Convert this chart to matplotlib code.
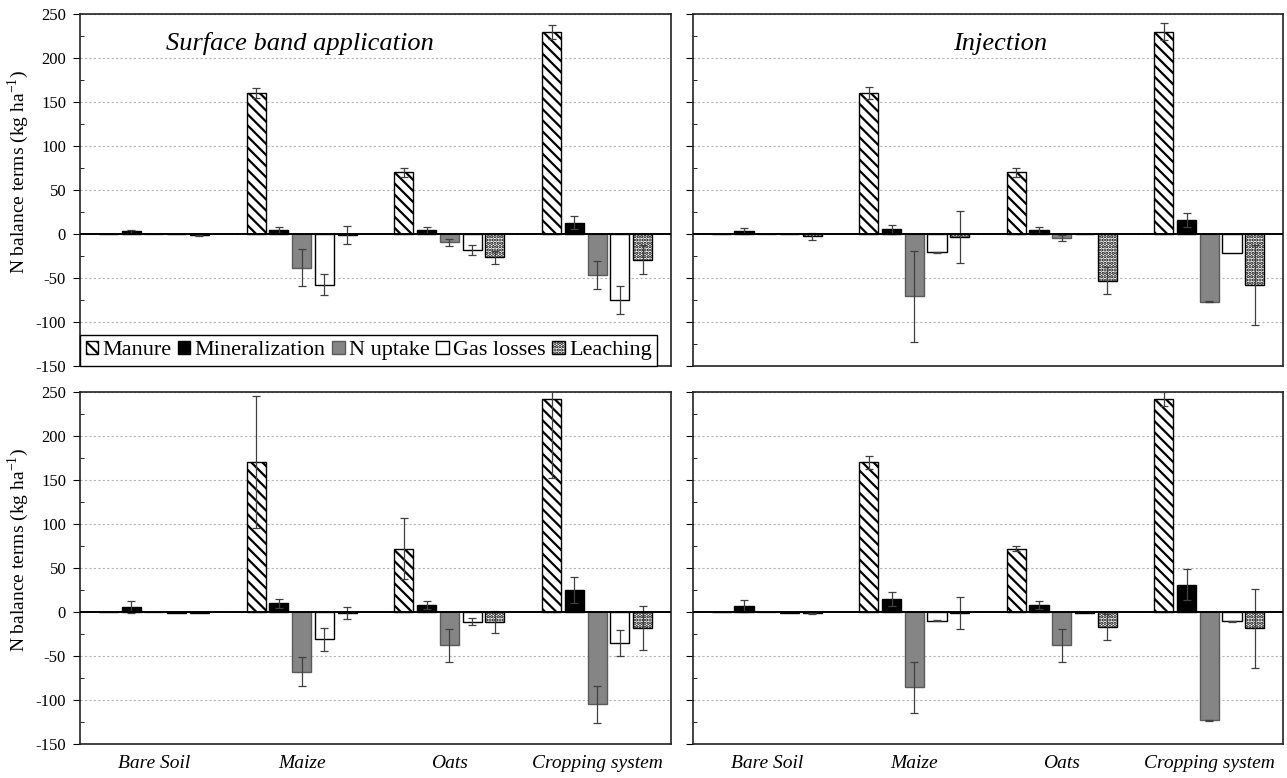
import numpy as np
import matplotlib
matplotlib.use("Agg")
import matplotlib.pyplot as plt
from matplotlib.patches import Patch
from matplotlib.ticker import MultipleLocator

plt.rcParams['font.family'] = ['Liberation Serif', 'DejaVu Serif']
plt.rcParams['axes.unicode_minus'] = False
plt.rcParams['hatch.linewidth'] = 1.6

crops = ['Bare Soil', 'Maize', 'Oats', 'Cropping system']
terms = ['Manure', 'Mineralization', 'N uptake', 'Gas losses', 'Leaching']

# rows follow `terms`, columns follow `crops`
surface_a = [[0, 160, 70, 230],
             [3, 4.5, 4.5, 13],
             [0, -38.5, -9.5, -47],
             [-0.5, -57.5, -18, -75],
             [-1.5, -1, -26.5, -29]]
surface_a_err = [[0, 6, 5, 8],
                 [2, 3.5, 3, 7],
                 [0, 21, 4, 16],
                 [0, 12, 5.5, 15.5],
                 [0.5, 10, 7.5, 16]]

inject_a = [[0, 160, 70, 230],
            [3, 5.3, 5, 16],
            [0, -71, -4.5, -77],
            [-0.5, -21, 0, -22],
            [-2.5, -3.5, -53, -58]]
inject_a_err = [[0, 7, 5, 10],
                [3.5, 5, 3.5, 8],
                [0, 52, 3, 0.5],
                [0, 1, 0, 0],
                [4, 30, 15, 45]]

surface_b = [[0, 170, 72, 242],
             [6, 10, 8, 25],
             [0, -68, -38, -105],
             [-1, -31, -11, -35.5],
             [-1, -1, -11.5, -18]]
surface_b_err = [[0, 75, 35, 90],
                 [7, 5, 4.5, 15],
                 [0, 16.5, 19, 21],
                 [0, 13, 4, 15],
                 [0, 7, 12.5, 25]]

inject_b = [[0, 170, 72, 242],
            [7, 15, 8, 31],
            [-0.5, -85.5, -38, -123],
            [-1, -10, -1, -10.5],
            [-1.5, -1, -17, -18.5]]
inject_b_err = [[0, 7, 3, 8],
                [7, 8, 4.5, 17.5],
                [0, 29, 19, 0.5],
                [0, 0.5, 0, 0.5],
                [0.5, 18.5, 15, 45]]

styles = [dict(facecolor='white', edgecolor='black', hatch='\\\\\\'),
          dict(facecolor='black', edgecolor='black'),
          dict(facecolor='#858585', edgecolor='#5a5a5a'),
          dict(facecolor='white', edgecolor='black'),
          dict(facecolor='white', edgecolor='black', hatch='.....')]

W, H = 1287, 778
fig = plt.figure(figsize=(W / 100, H / 100), dpi=100)


def box(x0, y0, x1, y1):
    return [x0 / W, 1 - y1 / H, (x1 - x0) / W, (y1 - y0) / H]


ax_tl = fig.add_axes(box(80, 14, 671, 366))
ax_tr = fig.add_axes(box(693, 14, 1283, 366))
ax_bl = fig.add_axes(box(80, 392, 671, 744))
ax_br = fig.add_axes(box(693, 392, 1283, 744))

x = np.arange(len(crops))
step = 0.154
width = 0.13


def draw(ax, vals, errs, left, bottom):
    for i, term in enumerate(terms):
        pos = x + (i - 2) * step
        ax.bar(pos, vals[i], width, linewidth=1.0, zorder=3, **styles[i])
        e = np.array(errs[i], dtype=float)
        keep = e > 0
        ax.errorbar(pos[keep], np.array(vals[i])[keep], yerr=e[keep], fmt='none',
                    ecolor='#404040', elinewidth=0.9, capsize=3, capthick=0.9,
                    zorder=4)
    ax.axhline(0, color='black', lw=1.4, zorder=5)
    ax.set_xlim(-0.5, 3.5)
    ax.set_ylim(-150, 250)
    ax.yaxis.set_major_locator(MultipleLocator(50))
    ax.yaxis.set_minor_locator(MultipleLocator(25))
    ax.grid(axis='y', which='major', linestyle=(0, (2, 2)), color='#b5b5b5',
            lw=0.8, zorder=0)
    ax.tick_params(axis='y', which='major', direction='out', length=5,
                   labelsize=12, labelleft=left, pad=5)
    ax.tick_params(axis='y', which='minor', direction='in', length=3)
    ax.set_xticks(x)
    ax.tick_params(axis='x', length=0, pad=8)
    if bottom:
        ax.set_xticklabels(crops, fontsize=14, style='italic')
    else:
        ax.set_xticklabels([])
    if left:
        ax.set_ylabel('N balance terms (kg ha$^{\\mathregular{-1}}$)',
                      fontsize=14)
        ax.yaxis.set_label_coords(-0.083, 0.55)
    for sp in ax.spines.values():
        sp.set_linewidth(1.2)
        sp.set_color('#222222')


draw(ax_tl, surface_a, surface_a_err, True, False)
draw(ax_tr, inject_a, inject_a_err, False, False)
draw(ax_bl, surface_b, surface_b_err, True, True)
draw(ax_br, inject_b, inject_b_err, False, True)

ax_tl.text(0.372, 0.915, 'Surface band application', transform=ax_tl.transAxes,
           ha='center', va='center', fontsize=19, style='italic')
ax_tr.text(0.52, 0.915, 'Injection', transform=ax_tr.transAxes,
           ha='center', va='center', fontsize=19, style='italic')

handles = [Patch(linewidth=1.0, label=t, **s) for t, s in zip(terms, styles)]
leg = ax_tl.legend(handles=handles, loc='lower left', ncol=5,
                   bbox_to_anchor=(0, 0), borderaxespad=0,
                   fontsize=16, handlelength=0.55, handleheight=0.55,
                   handletextpad=0.2, columnspacing=0.3, borderpad=0.25,
                   fancybox=False, framealpha=1, edgecolor='black')
leg.get_frame().set_linewidth(1.0)

fig.savefig('out.png', dpi=100)
